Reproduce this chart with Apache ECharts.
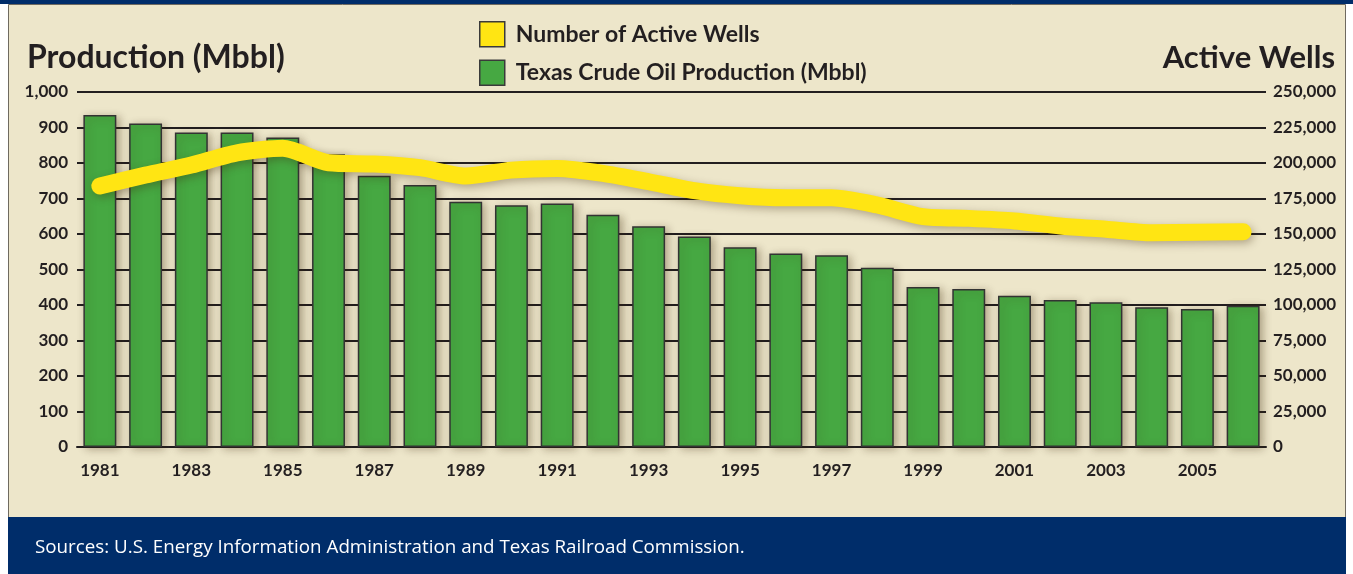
<!DOCTYPE html>
<html>
<head>
<meta charset="utf-8">
<script src="https://cdn.jsdelivr.net/npm/echarts@6/dist/echarts.min.js"></script>
<style>
  html, body { margin: 0; padding: 0; background: #ffffff; }
  #chart { width: 1353px; height: 574px; }
</style>
</head>
<body>
<div id="chart"></div>
<script>
// ---- Data ----
const years = ['1981','1982','1983','1984','1985','1986','1987','1988','1989','1990','1991','1992','1993',
               '1994','1995','1996','1997','1998','1999','2000','2001','2002','2003','2004','2005','2006'];
const production = [935, 911, 886, 886, 872, 825, 764, 738, 691, 681, 686, 654, 622,
                    593, 563, 545, 540, 505, 451, 445, 426, 414, 408, 394, 389, 398];
const activeWells = [183800, 191500, 198600, 207200, 210400, 200200, 199300, 196700, 190800, 195000, 196200, 192700, 186800,
                     180500, 176900, 175500, 175500, 170400, 162200, 161000, 159200, 155600, 153300, 150900, 151200, 151600];
const leftTitle = 'Production (Mbbl)';
const rightTitle = 'Active Wells';
const wellsName = 'Number of Active Wells';
const prodName = 'Texas Crude Oil Production (Mbbl)';
const sourceText = 'Sources: U.S. Energy Information Administration and Texas Railroad Commission.';

const ink = '#231F20';
const FONT = 'Lato';
const fmt = v => Number(v).toLocaleString('en-US');

const chart = echarts.init(document.getElementById('chart'), null, { renderer: 'canvas' });
chart.setOption({
  backgroundColor: '#ffffff',
  animation: false,
  graphic: [
    { type: 'rect', z: -10, shape: { x: 0, y: 0, width: 1353, height: 4 }, style: { fill: '#002D6A' } },
    { type: 'rect', z: -10, shape: { x: 8.5, y: 4.5, width: 1337, height: 513 }, style: { fill: '#EDE6CA', stroke: '#6f6a60', lineWidth: 1 } },
    { type: 'rect', z: -9, shape: { x: 8, y: 517, width: 1338, height: 57 }, style: { fill: '#002D6A' } },
    { type: 'text', z: 10, left: 35, top: 538, style: { text: sourceText, fill: '#ffffff', font: '18.8px "Open Sans"' } }
  ],
  title: [
    { text: leftTitle, left: 27, top: 42, padding: 0, textStyle: { fontFamily: FONT, fontWeight: 'bold', fontSize: 32, color: ink } },
    { text: rightTitle, right: 18, top: 42, padding: 0, textStyle: { fontFamily: FONT, fontWeight: 'bold', fontSize: 31, color: ink } }
  ],
  legend: {
    orient: 'vertical',
    left: 479,
    top: 21,
    padding: 0,
    itemWidth: 25,
    itemHeight: 25,
    itemGap: 12,
    icon: 'rect',
    textStyle: { fontFamily: FONT, fontWeight: 'bold', fontSize: 23, color: ink, padding: [0, 0, 0, 6] },
    data: [
      { name: wellsName, itemStyle: { color: '#FFE513', borderColor: '#3a3a3a', borderWidth: 1.5 } },
      { name: prodName, itemStyle: { color: '#46A842', borderColor: '#3a3a3a', borderWidth: 1.5 } }
    ]
  },
  grid: { left: 77, right: 87, top: 92, bottom: 127, containLabel: false },
  xAxis: {
    type: 'category',
    data: years,
    axisLine: { show: true, lineStyle: { color: ink, width: 2 } },
    axisTick: { show: false },
    axisLabel: { interval: 1, margin: 15, fontFamily: FONT, fontWeight: 'bold', fontSize: 17, color: ink }
  },
  yAxis: [
    {
      type: 'value', min: 0, max: 1000, interval: 100,
      axisLine: { show: false }, axisTick: { show: false },
      axisLabel: { margin: 9, formatter: fmt, fontFamily: FONT, fontWeight: 'bold', fontSize: 17, color: ink },
      splitLine: { show: true, lineStyle: { color: ink, width: 2 } }
    },
    {
      type: 'value', min: 0, max: 250000, interval: 25000, position: 'right',
      axisLine: { show: false }, axisTick: { show: false },
      axisLabel: { margin: 7, formatter: fmt, fontFamily: FONT, fontWeight: 'bold', fontSize: 17, color: ink },
      splitLine: { show: false }
    }
  ],
  series: [
    {
      name: prodName,
      type: 'bar',
      yAxisIndex: 0,
      data: production,
      barCategoryGap: '28%',
      z: 2,
      itemStyle: {
        color: '#46A842', borderColor: '#333333', borderWidth: 1.5,
        shadowColor: 'rgba(60,40,10,0.35)', shadowBlur: 8, shadowOffsetX: 3, shadowOffsetY: 2
      }
    },
    {
      name: wellsName,
      type: 'line',
      yAxisIndex: 1,
      data: activeWells,
      smooth: 0.25,
      symbol: 'none',
      z: 5,
      lineStyle: {
        color: '#FFE513', width: 17, cap: 'round', join: 'round',
        shadowColor: 'rgba(60,40,10,0.35)', shadowBlur: 8, shadowOffsetX: 2, shadowOffsetY: 3
      },
      itemStyle: { color: '#FFE513' }
    }
  ]
});
</script>
</body>
</html>
